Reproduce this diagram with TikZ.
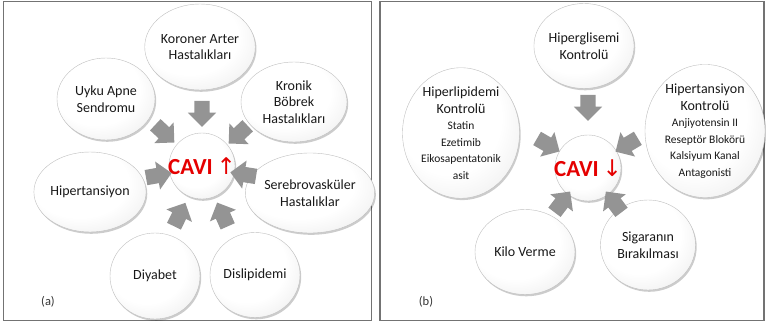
\documentclass[tikz,border=0pt]{standalone}
\usepackage{fontspec}
\setmainfont{Carlito}
\newfontfamily\arrfont{DejaVu Sans}
\usetikzlibrary{shapes.geometric,shapes.arrows,shadows}
\pgfdeclareradialshading{bubshade}{\pgfpoint{-8bp}{10bp}}{%
  color(0bp)=(white); color(22bp)=(white); color(42bp)=(black!10); color(55bp)=(black!30)}
\tikzset{
  bub/.style={ellipse, draw=black!25, line width=0.4pt, shading=bubshade,
    drop shadow={shadow xshift=1.2pt, shadow yshift=-1.8pt, opacity=0.2, fill=black},
    inner sep=0pt, align=center, text=black!90,
    font=\fontsize{14}{16.5}\selectfont},
  blk/.style={single arrow, fill=black!42, draw=none, minimum height=26pt,
    minimum width=28pt, single arrow head extend=6.5pt, inner xsep=0pt,
    inner ysep=7.5pt, text height=0pt, text depth=0pt},
  panel/.style={draw=black!55, line width=1.8pt},
  cavi/.style={text=red!90!black, font=\fontsize{23}{26}\selectfont\bfseries},
  lab/.style={text=black!80, font=\fontsize{12.5}{14}\selectfont}
}
\newcommand{\sm}[1]{{\fontsize{11.5}{11.7}\selectfont #1}}
\begin{document}
\begin{tikzpicture}[x=1pt,y=-1pt]
\useasboundingbox (0,0) rectangle (766,326);
\draw[panel] (3.5,1.5) rectangle (371.5,320.5);
\draw[panel] (380,1.5) rectangle (764,320.5);
% panel a
\node[bub, minimum width=97pt, minimum height=86pt] (kor) at (200,47) {Koroner Arter\\Hastalıkları};
\node[bub, minimum width=98pt, minimum height=82pt] (uyk) at (106,99) {Uyku Apne\\Sendromu};
\node[bub, minimum width=106pt, minimum height=80pt] (kro) at (294,102) {Kronik\\Böbrek\\Hastalıkları};
\node[bub, minimum width=104pt, minimum height=80pt] (hip) at (90,192) {Hipertansiyon};
\node[bub, minimum width=106pt, minimum height=80pt] (ser) at (310,193) {Serebrovasküler\\Hastalıklar};
\node[bub, minimum width=90pt, minimum height=86pt] (diy) at (155,276) {Diyabet};
\node[bub, minimum width=90pt, minimum height=85pt] (dis) at (255,275) {Dislipidemi};
\node[bub, circle, minimum size=66pt] (cava) at (202,166) {};
\node[cavi] (cavat) at (cava) {CAVI\,{\arrfont\mdseries ↑}};
\node[blk, rotate=-90] (aa1) at (202,110) {};
\node[blk, rotate=-43] (aa2) at (162,131) {};
\node[blk, rotate=-137] (aa3) at (241,132) {};
\node[blk, rotate=10] (aa4) at (155,176) {};
\node[blk, rotate=171] (aa5) at (247,175) {};
\node[blk, rotate=64] (aa6) at (178,218) {};
\node[blk, rotate=114] (aa7) at (224,218) {};
\node[lab] (la) at (48,302) {(a)};
% panel b
\node[bub, minimum width=95pt, minimum height=85pt] (hgl) at (584,46) {Hiperglisemi\\Kontrolü};
\node[bub, minimum width=117pt, minimum height=127pt] (hlp) at (461,133) {Hiperlipidemi\\Kontrolü\\\sm{Statin}\\\sm{Ezetimib}\\\sm{Eikosapentatonik}\\\sm{asit}};
\node[bub, minimum width=120pt, minimum height=123pt] (htk) at (705,131) {Hipertansiyon\\Kontrolü\\\sm{Anjiyotensin II}\\\sm{Reseptör Blokörü}\\\sm{Kalsiyum Kanal}\\\sm{Antagonisti}};
\node[bub, minimum width=100pt, minimum height=85pt] (kil) at (525,252) {Kilo Verme};
\node[bub, minimum width=95pt, minimum height=90pt] (sig) at (648,245) {Sigaranın\\Bırakılması};
\node[bub, circle, minimum size=66pt] (cavb) at (588,168) {};
\node[cavi] (cavbt) at (cavb) {CAVI\,{\arrfont\mdseries ↓}};
\node[blk, rotate=-90] (ba1) at (588,104) {};
\node[blk, rotate=-30] (ba2) at (545,143) {};
\node[blk, rotate=-149] (ba3) at (630,143) {};
\node[blk, rotate=53] (ba4) at (560,205) {};
\node[blk, rotate=127] (ba5) at (616,205) {};
\node[lab] (lb) at (426,302) {(b)};
\end{tikzpicture}
\end{document}
